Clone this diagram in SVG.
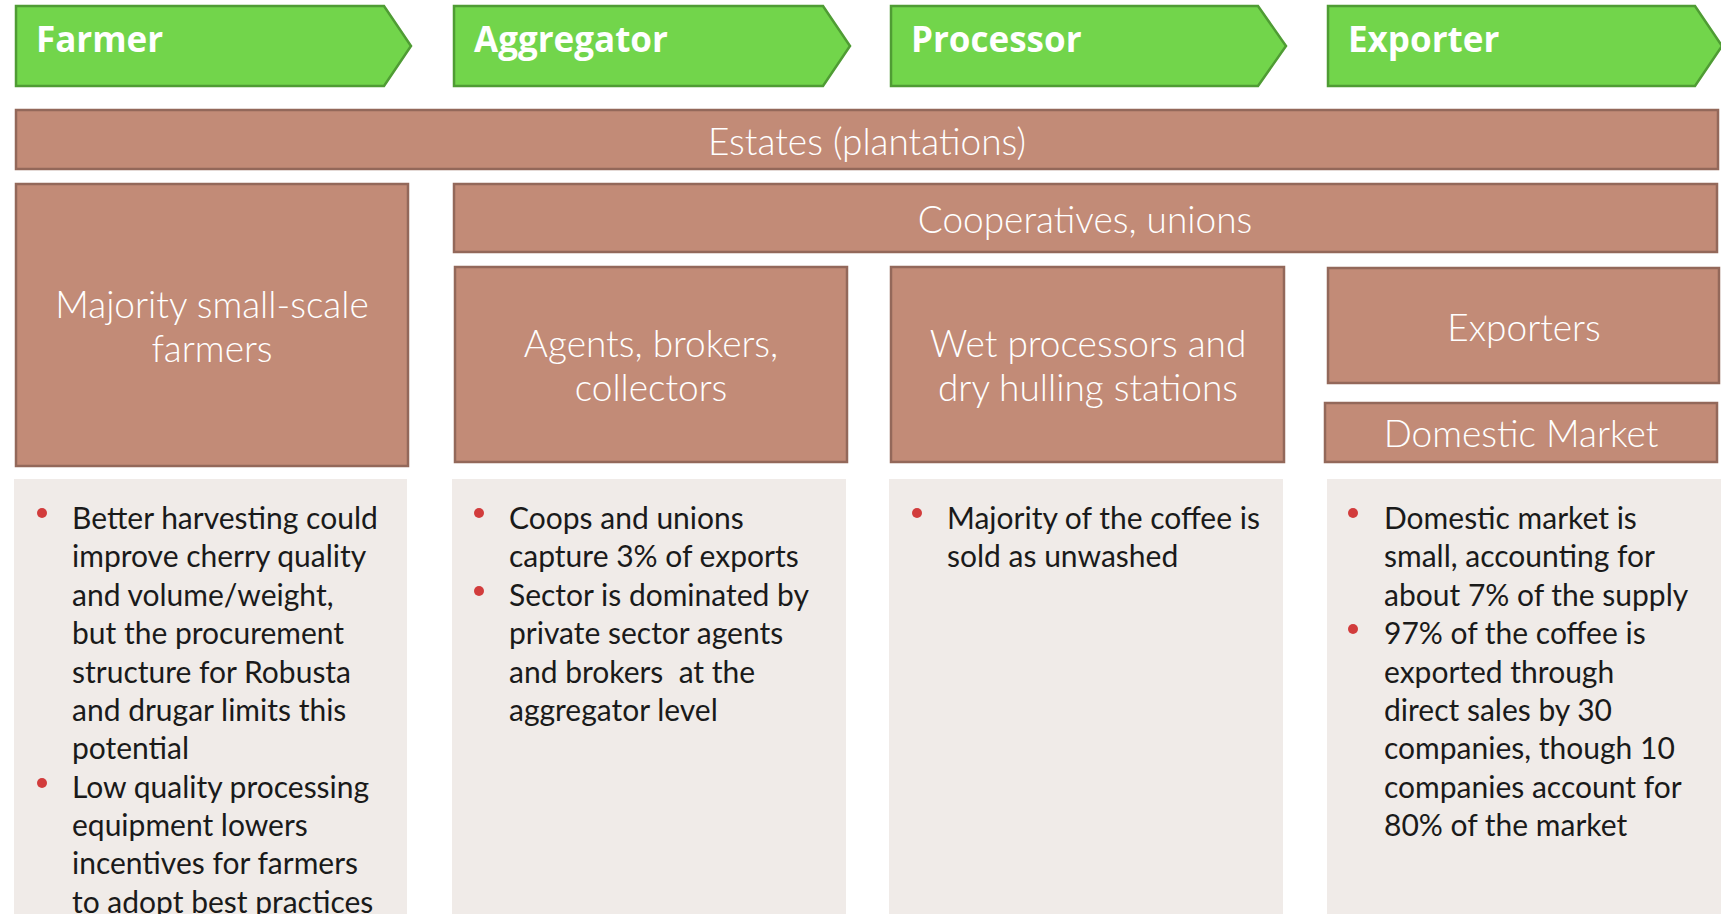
<svg xmlns="http://www.w3.org/2000/svg" width="1721" height="914" viewBox="0 0 1721 914">
  <style>
    .stage { fill: #72d54b; stroke: #4f9c34; stroke-width: 2.5; }
    .stage-label { font-family: "Open Sans", "Liberation Sans", sans-serif; font-weight: 700; font-size: 35px; fill: #ffffff; }
    .actor { fill: #c28b77; stroke: #93685a; stroke-width: 2.5; }
    .actor-label { font-family: Lato, "Open Sans", sans-serif; font-weight: 300; font-size: 37px; fill: #ffffff; text-anchor: middle; }
    .panel { fill: #f0ebe8; }
    .note { font-family: Lato, "Open Sans", sans-serif; font-weight: 400; font-size: 30px; fill: #1a1a1a; }
    .dot { fill: #d23c3c; }
  </style>

  <!-- value chain stages -->
  <g id="stage-farmer">
    <polygon class="stage" points="16,6 384,6 411,46 384,86 16,86"/>
    <text class="stage-label" x="36" y="52">Farmer</text>
  </g>
  <g id="stage-aggregator">
    <polygon class="stage" points="454,6 823,6 850,46 823,86 454,86"/>
    <text class="stage-label" x="474" y="52">Aggregator</text>
  </g>
  <g id="stage-processor">
    <polygon class="stage" points="891,6 1258,6 1286,46 1258,86 891,86"/>
    <text class="stage-label" x="911" y="52">Processor</text>
  </g>
  <g id="stage-exporter">
    <polygon class="stage" points="1328,6 1695,6 1722,46 1695,86 1328,86"/>
    <text class="stage-label" x="1348" y="52">Exporter</text>
  </g>

  <!-- actors -->
  <g id="estates">
    <rect class="actor" x="16" y="110" width="1702" height="59"/>
    <text class="actor-label" x="867" y="155">Estates (plantations)</text>
  </g>
  <g id="smallholders">
    <rect class="actor" x="16" y="184" width="392" height="282"/>
    <text class="actor-label" x="212" y="318">Majority small-scale</text>
    <text class="actor-label" x="212" y="362">farmers</text>
  </g>
  <g id="cooperatives">
    <rect class="actor" x="454" y="184" width="1263" height="68"/>
    <text class="actor-label" x="1085" y="233">Cooperatives, unions</text>
  </g>
  <g id="agents">
    <rect class="actor" x="455" y="267" width="392" height="195"/>
    <text class="actor-label" x="651" y="357">Agents, brokers,</text>
    <text class="actor-label" x="651" y="401">collectors</text>
  </g>
  <g id="processors">
    <rect class="actor" x="891" y="267" width="393" height="195"/>
    <text class="actor-label" x="1088" y="357">Wet processors and</text>
    <text class="actor-label" x="1088" y="401">dry hulling stations</text>
  </g>
  <g id="exporters">
    <rect class="actor" x="1328" y="268" width="391" height="115"/>
    <text class="actor-label" x="1524" y="341">Exporters</text>
  </g>
  <g id="domestic-market">
    <rect class="actor" x="1325" y="403" width="392" height="59"/>
    <text class="actor-label" x="1521" y="447">Domestic Market</text>
  </g>

  <!-- notes per stage -->
  <g id="notes-farmer">
    <rect class="panel" x="14" y="479" width="393" height="435"/>
    <circle class="dot" cx="42" cy="513" r="5"/>
    <circle class="dot" cx="42" cy="783" r="5"/>
    <text class="note" x="72" y="529">
      <tspan x="72" y="529">Better harvesting could</tspan>
      <tspan x="72" y="567">improve cherry quality</tspan>
      <tspan x="72" y="606">and volume/weight,</tspan>
      <tspan x="72" y="644">but the procurement</tspan>
      <tspan x="72" y="683">structure for Robusta</tspan>
      <tspan x="72" y="721">and drugar limits this</tspan>
      <tspan x="72" y="759">potential</tspan>
      <tspan x="72" y="798">Low quality processing</tspan>
      <tspan x="72" y="836">equipment lowers</tspan>
      <tspan x="72" y="874">incentives for farmers</tspan>
      <tspan x="72" y="913">to adopt best practices</tspan>
    </text>
  </g>
  <g id="notes-aggregator">
    <rect class="panel" x="452" y="479" width="394" height="435"/>
    <circle class="dot" cx="479" cy="513" r="5"/>
    <circle class="dot" cx="479" cy="591" r="5"/>
    <text class="note" x="509" y="529">
      <tspan x="509" y="529">Coops and unions</tspan>
      <tspan x="509" y="567">capture 3% of exports</tspan>
      <tspan x="509" y="606">Sector is dominated by</tspan>
      <tspan x="509" y="644">private sector agents</tspan>
      <tspan x="509" y="683" xml:space="preserve">and brokers  at the</tspan>
      <tspan x="509" y="721">aggregator level</tspan>
    </text>
  </g>
  <g id="notes-processor">
    <rect class="panel" x="889" y="479" width="394" height="435"/>
    <circle class="dot" cx="917" cy="513" r="5"/>
    <text class="note" x="947" y="529">
      <tspan x="947" y="529">Majority of the coffee is</tspan>
      <tspan x="947" y="567">sold as unwashed</tspan>
    </text>
  </g>
  <g id="notes-exporter">
    <rect class="panel" x="1327" y="479" width="394" height="435"/>
    <circle class="dot" cx="1353" cy="513" r="5"/>
    <circle class="dot" cx="1353" cy="629" r="5"/>
    <text class="note" x="1384" y="529">
      <tspan x="1384" y="529">Domestic market is</tspan>
      <tspan x="1384" y="567">small, accounting for</tspan>
      <tspan x="1384" y="606">about 7% of the supply</tspan>
      <tspan x="1384" y="644">97% of the coffee is</tspan>
      <tspan x="1384" y="683">exported through</tspan>
      <tspan x="1384" y="721">direct sales by 30</tspan>
      <tspan x="1384" y="759">companies, though 10</tspan>
      <tspan x="1384" y="798">companies account for</tspan>
      <tspan x="1384" y="836">80% of the market</tspan>
    </text>
  </g>

  <!-- no connectors: stages are linked by the chevron shapes -->
  <g id="connectors"/>
</svg>
